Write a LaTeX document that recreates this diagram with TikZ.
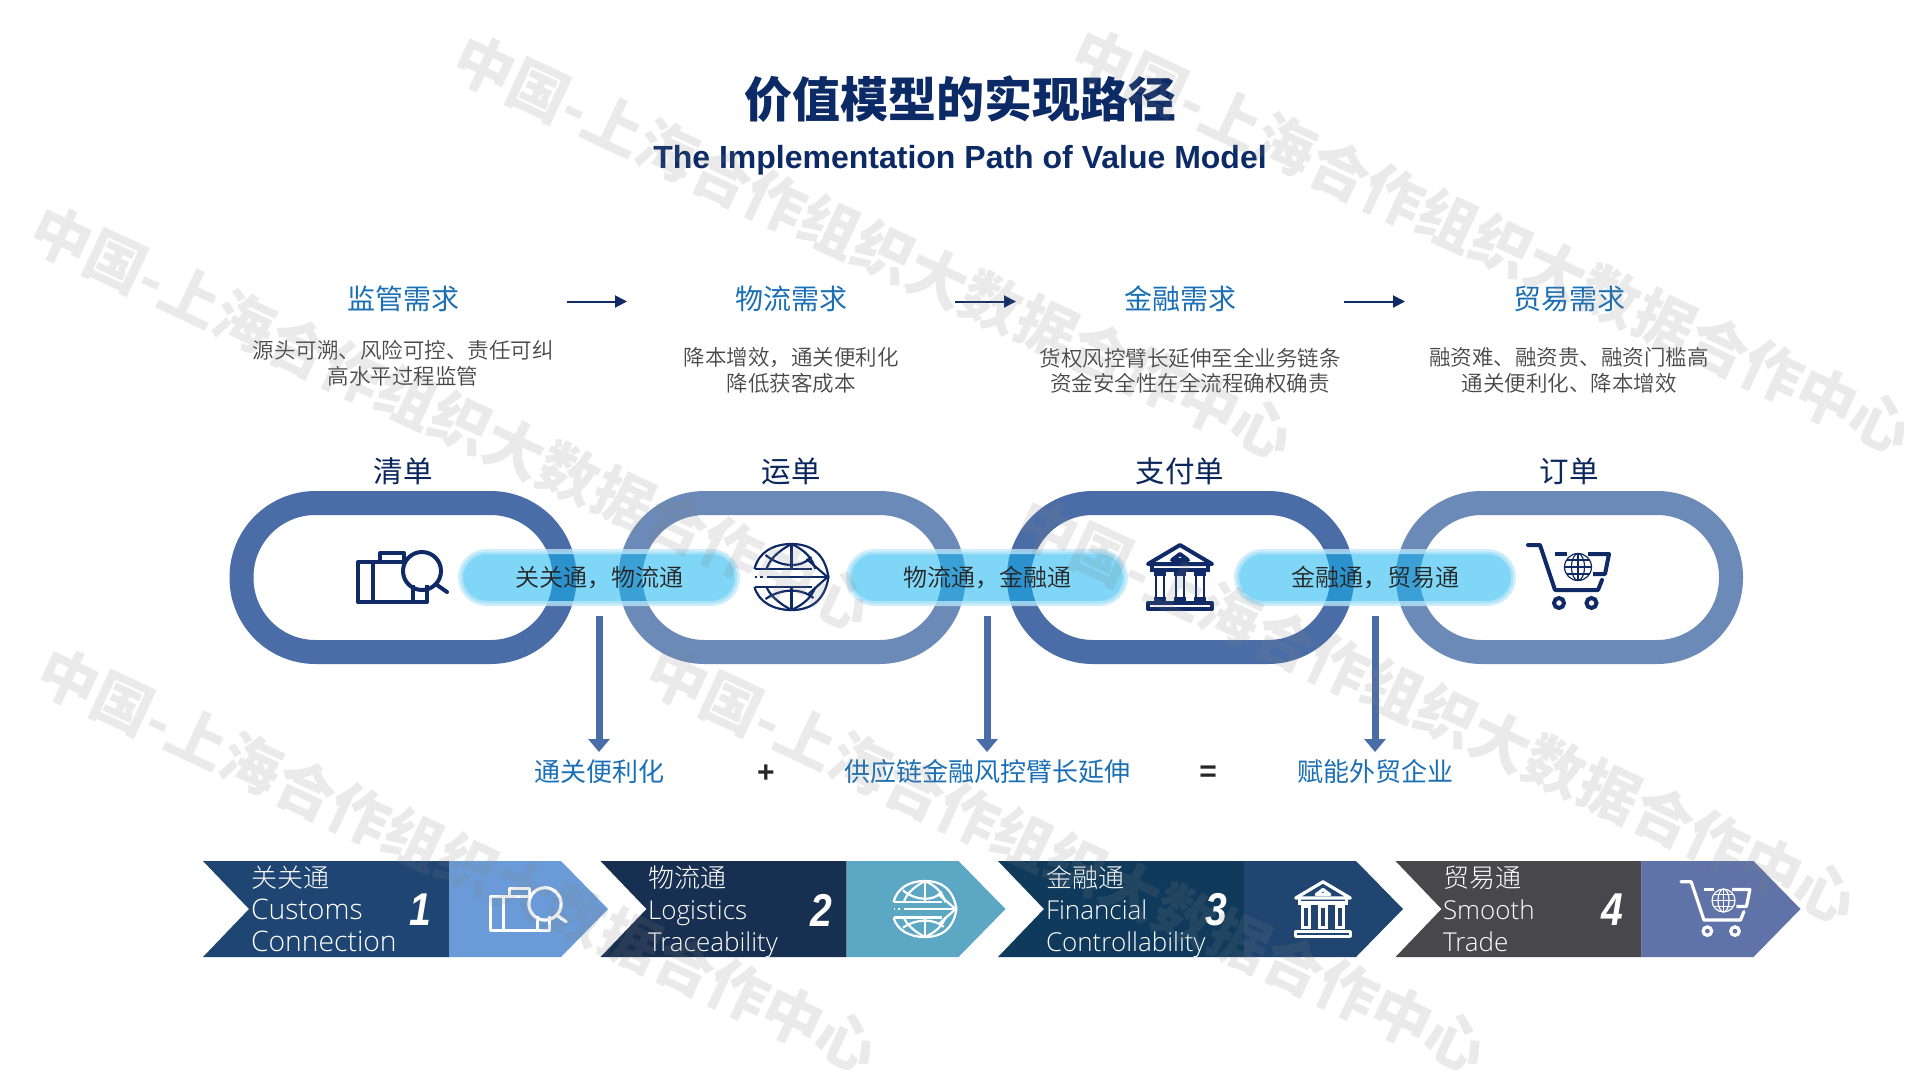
\documentclass[tikz,border=0pt]{standalone}
\usepackage{fontspec}
\usepackage{xcolor}
\usepackage{tikz}
\usetikzlibrary{arrows.meta}
\setmainfont{Noto Sans CJK SC}
\IfFontExistsTF{Noto Sans CJK SC Light}{\newfontfamily\cjklight{Noto Sans CJK SC Light}}{\newfontfamily\cjklight{Noto Sans CJK SC}}
\IfFontExistsTF{Noto Sans CJK SC DemiLight}{\newfontfamily\cjkmid{Noto Sans CJK SC DemiLight}}{\newfontfamily\cjkmid{Noto Sans CJK SC}}
\IfFontExistsTF{Open Sans Light}{\newfontfamily\latinlight{Open Sans Light}}{\newfontfamily\latinlight{Open Sans}}
\newfontfamily\arialfont{Liberation Sans}
\definecolor{titlenavy}{HTML}{0B2A66}
\definecolor{iconnavy}{HTML}{0F2A66}
\definecolor{linkdark}{HTML}{4A6DA7}
\definecolor{linklight}{HTML}{6C8AB8}
\definecolor{headblue}{HTML}{1A6FB5}
\definecolor{pillblue}{HTML}{12B3F0}
\definecolor{haloblue}{HTML}{BEE8FA}
\definecolor{darkA}{HTML}{1F4573}
\definecolor{lightA}{HTML}{6A9BD8}
\definecolor{darkB}{HTML}{172F50}
\definecolor{lightB}{HTML}{5CA8C4}
\definecolor{darkC}{HTML}{0F3A5C}
\definecolor{lightC}{HTML}{1F4570}
\definecolor{darkD}{HTML}{48474C}
\definecolor{lightD}{HTML}{6073A8}
\tikzset{
	pics/bagicon/.style={code={
		\draw [line join=round] (5,-15) -- (-44,-15) -- (-44,25) -- (25,25) -- (25,8);
		\draw (11,8) -- (11,25);
		\draw (-29,-15) -- (-29,25);
		\draw [line join=round] (-22,-15) -- (-22,-24) -- (2,-24) -- (2,-15);
		\draw (20,-6) circle (19);
		\draw [line cap=round] (35,8) -- (45,15);
	}},
	pics/globeicon/.style={code={
		\draw [line width=2.2] (-37,-8) .. controls (-33,-25) and (-18,-33) .. (0,-33) .. controls (18,-33) and (33,-25) .. (37,0) .. controls (33,25) and (18,33) .. (0,33) .. controls (-18,33) and (-33,25) .. (-37,10);
		\draw [line width=2.2] (-37,-8) -- (20,-8);
		\draw [line width=2.2] (-37,10) -- (20,10);
		\draw [line width=2.2] (-25,0) -- (35,0);
		\draw [line width=2.2] (-37,0) -- (-35,0);
		\draw [line width=2.2] (-32,0) -- (-29,0);
		\draw [line width=2.2] (15,-18) -- (36,0) -- (17,17);
		\draw [line width=2.2] (0,-33) -- (0,-8);
		\draw [line width=2.2] (0,-33) .. controls (-15,-25) and (-22,-17) .. (-25,-8);
		\draw [line width=2.2] (0,-33) .. controls (13,-27) and (20,-20) .. (24,-8);
		\draw [line width=2.2] (-26,-22) .. controls (-10,-9) and (10,-9) .. (20,-20);
		\draw [line width=2.2] (0,33) -- (0,10);
		\draw [line width=2.2] (0,33) .. controls (-15,25) and (-22,17) .. (-25,10);
		\draw [line width=2.2] (0,33) .. controls (13,27) and (20,20) .. (24,10);
		\draw [line width=2.2] (-26,22) .. controls (-10,11) and (10,11) .. (22,21);
	}},
	pics/bankicon/.style={code={
		\draw [line join=round] (-32,-13) -- (0,-32) -- (32,-13) -- cycle;
		\draw [line join=round] (-8,-17) -- (0,-23) -- (8,-17) -- cycle;
		\draw (-28,-13) -- (-28,-7) -- (28,-7) -- (28,-13);
		\draw (-26,-3) -- (-14,-3);
		\draw (-6,-3) -- (6,-3);
		\draw (14,-3) -- (26,-3);
		\draw [line width=2.6] (-24,-3) -- (-24,21);
		\draw [line width=2.6] (-16,-3) -- (-16,21);
		\draw [line width=2.6] (-4,-3) -- (-4,21);
		\draw [line width=2.6] (4,-3) -- (4,21);
		\draw [line width=2.6] (16,-3) -- (16,21);
		\draw [line width=2.6] (24,-3) -- (24,21);
		\draw (-26,22) -- (-14,22);
		\draw (-6,22) -- (6,22);
		\draw (14,22) -- (26,22);
		\draw [line join=round] (-32,26) rectangle (32,32);
	}},
	pics/carticon/.style={code={
		\draw [line join=round,line cap=round] (-40,-32) -- (-28,-32) -- (-13,13) -- (30,13) -- (34,3);
		\draw (-13,-23) -- (-1,-23);
		\draw [line join=round] (20,-23) -- (41,-23) -- (37,-3) -- (25,-3);
		\draw [line width=1.2] (10,-10) circle (13.5);
		\draw [line width=1.2] (10,-10) ellipse (6.5 and 13.5);
		\draw [line width=1.2] (10,-23.5) -- (10,3.5);
		\draw [line width=1.2] (-3.5,-10) -- (23.5,-10);
		\draw [line width=1.2] (-1.5,-17) -- (21.5,-17);
		\draw [line width=1.2] (-1.5,-3) -- (21.5,-3);
		\draw (-9,26) circle (5);
		\draw (23.5,26) circle (5);
	}},
	pics/chevronbar/.style 2 args={code={
		\fill [#1] (0,0) -- (46,48) -- (0,96) -- (246,96) -- (246,0) -- cycle;
		\fill [#2] (246,0) -- (358,0) -- (405,48) -- (358,96) -- (246,96) -- cycle;
	}}
}
\begin{document}
\begin{tikzpicture}[x=1pt,y=-1pt,
		every node/.style={inner sep=0pt,outer sep=0pt},
		headlabel/.style={text=headblue,font=\fontsize{28}{28}\selectfont,text height=24.6,text depth=3.4},
		desclabel/.style={text=black!72,align=center,font=\fontsize{21.5}{25.5}\selectfont\cjkmid},
		doclabel/.style={text=titlenavy!90!black,font=\fontsize{29.5}{29.5}\selectfont,text height=26,text depth=3.5},
		linkbox/.style={draw,line width=24,minimum width=323,minimum height=149,rounded corners=74},
		pillbox/.style={fill=pillblue,fill opacity=.54,draw=haloblue,draw opacity=.75,text opacity=1,line width=5,minimum width=277,minimum height=52,rounded corners=26,text=black!85,font=\fontsize{24}{24}\selectfont\cjkmid},
		reslabel/.style={text=headblue,font=\fontsize{26}{26}\selectfont,text height=22.9,text depth=3.1},
		opsign/.style={text=black!85,font=\fontsize{30}{30}\selectfont\arialfont\bfseries},
		steparrow/.style={draw=iconnavy,line width=2,-{Triangle[length=12,width=12]},shorten <=108,shorten >=108},
		downarrow/.style={draw=linkdark,line width=7,-{Triangle[length=13,width=21]},shorten <=12,shorten >=7},
		navyicon/.style={color=iconnavy,line width=4},
		whiteicon/.style={color=white,line width=3.2,scale=.85},
		taglabel/.style={anchor=west,text=white,align=left,font=\fontsize{26}{32}\selectfont\latinlight},
		numlabel/.style={text=white,xscale=.85,font=\fontsize{46}{46}\selectfont\arialfont\bfseries\itshape},
		watermark/.style={text=black!50,text opacity=.17,rotate=-25,font=\fontsize{59.7}{59.7}\selectfont\bfseries}]
		\useasboundingbox (0,0) rectangle (1920,1080);
		\node [text=titlenavy,font=\fontsize{48}{48}\selectfont\bfseries] (title) at (960,99) {价值模型的实现路径};
		\node [text=titlenavy,font=\fontsize{32}{32}\selectfont\arialfont\bfseries] (subtitle) at (960,160.5) {The Implementation Path of Value Model};
		\node [headlabel] (hd1) at (403,299) {监管需求};
		\node [headlabel] (hd2) at (791,299) {物流需求};
		\node [headlabel] (hd3) at (1180,299) {金融需求};
		\node [headlabel] (hd4) at (1569,299) {贸易需求};
		\draw [steparrow] ([yshift=-2.5]hd1.east) -- ([yshift=-2.5]hd2.west);
		\draw [steparrow] ([yshift=-2.5]hd2.east) -- ([yshift=-2.5]hd3.west);
		\draw [steparrow] ([yshift=-2.5]hd3.east) -- ([yshift=-2.5]hd4.west);
		\node [desclabel] (desc1) at (403,363.5) {源头可溯、风险可控、责任可纠\\高水平过程监管};
		\node [desclabel] (desc2) at (791,370.5) {降本增效，通关便利化\\降低获客成本};
		\node [desclabel] (desc3) at (1190,370.5) {货权风控臂长延伸至全业务链条\\资金安全性在全流程确权确责};
		\node [desclabel] (desc4) at (1569,370.5) {融资难、融资贵、融资门槛高\\通关便利化、降本增效};
		\node [doclabel] (doc1) at (403,471) {清单};
		\node [doclabel] (doc2) at (791,471) {运单};
		\node [doclabel] (doc3) at (1180,471) {支付单};
		\node [doclabel] (doc4) at (1569,471) {订单};
		\node [linkbox,draw=linkdark] (link1) at (403,577.5) {};
		\node [linkbox,draw=linklight] (link2) at (792,577.5) {};
		\node [linkbox,draw=linkdark] (link3) at (1180.5,577.5) {};
		\node [linkbox,draw=linklight] (link4) at (1569.5,577.5) {};
		\node [pillbox] (pill1) at (599,577.5) {关关通，物流通};
		\node [pillbox] (pill2) at (987,577.5) {物流通，金融通};
		\node [pillbox] (pill3) at (1375,577.5) {金融通，贸易通};
		\pic [navyicon] at (402,577) {bagicon};
		\pic [navyicon] at (791.5,577) {globeicon};
		\pic [navyicon] at (1180,577) {bankicon};
		\pic [navyicon] at (1568,577) {carticon};
		\node [reslabel] (res1) at (599,772) {通关便利化};
		\node [reslabel] (res2) at (987,772) {供应链金融风控臂长延伸};
		\node [reslabel] (res3) at (1375,772) {赋能外贸企业};
		\node [opsign] (plus) at (766,774) {+};
		\node [opsign] (equal) at (1208,774) {=};
		\draw [downarrow] (pill1.south) -- (res1.north);
		\draw [downarrow] (pill2.south) -- (res2.north);
		\draw [downarrow] (pill3.south) -- (res3.north);
		\pic at (203,861) {chevronbar={darkA}{lightA}};
		\pic at (600.5,861) {chevronbar={darkB}{lightB}};
		\pic at (998,861) {chevronbar={darkC}{lightC}};
		\pic at (1395.5,861) {chevronbar={darkD}{lightD}};
		\pic [whiteicon] at (528,909) {bagicon};
		\pic [whiteicon] at (925,909) {globeicon};
		\pic [whiteicon] at (1323,909) {bankicon};
		\pic [whiteicon] at (1715,909) {carticon};
		\node [taglabel] (tag1) at (251,912) {\cjklight 关关通\\\fontsize{28.3}{32}\selectfont Customs\\\fontsize{28.3}{32}\selectfont Connection\vphantom{y}};
		\node [taglabel] (tag2) at (648,912) {\cjklight 物流通\\Logistics\\Traceability\vphantom{y}};
		\node [taglabel] (tag3) at (1046,912) {\cjklight 金融通\\Financial\\Controllability\vphantom{y}};
		\node [taglabel] (tag4) at (1443,912) {\cjklight 贸易通\\Smooth\\Trade\vphantom{y}};
		\node [numlabel] (num1) at (420,910) {1};
		\node [numlabel] (num2) at (821,910) {2};
		\node [numlabel] (num3) at (1216,910) {3};
		\node [numlabel] (num4) at (1612,910) {4};
		\node [watermark] (wm1) at (874,247) {中国-上海合作组织大数据合作中心};
		\node [watermark] (wm2) at (1492,241) {中国-上海合作组织大数据合作中心};
		\node [watermark] (wm3) at (451,418) {中国-上海合作组织大数据合作中心};
		\node [watermark] (wm4) at (1437,711) {中国-上海合作组织大数据合作中心};
		\node [watermark] (wm5) at (458,860) {中国-上海合作组织大数据合作中心};
		\node [watermark] (wm6) at (1067,860) {中国-上海合作组织大数据合作中心};
\end{tikzpicture}
\end{document}
